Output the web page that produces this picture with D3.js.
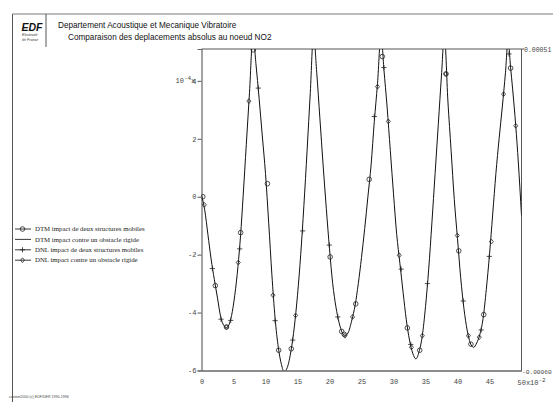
<!DOCTYPE html>
<html lang="fr">
<head>
<meta charset="UTF-8">
<script src="https://cdnjs.cloudflare.com/ajax/libs/d3/7.8.5/d3.min.js"></script>
<title>Comparaison des deplacements</title>
<style>
  body { margin: 0; background: #fff; }
  svg { display: block; }
  .tick text, .mono { font-family: 'Liberation Mono', 'DejaVu Sans Mono', monospace; font-size: 7px; fill: #444; }
  .legend-text { font-family: 'Liberation Serif', serif; font-size: 6.8px; fill: #222; }
  .title { font-family: 'Liberation Sans', Arial, sans-serif; font-size: 8.2px; fill: #111; }
</style>
</head>
<body>
<svg width="553" height="404"></svg>
<script>
// temps en 1e-2 s, deplacement en 1e-4
const curveX = [0, 0.5, 1, 1.5, 2, 2.5, 3, 3.5, 3.9, 4.3, 4.7, 5.2, 5.7, 6.1, 6.5, 7, 7.5, 8.05,
  8.5, 9, 9.5, 10, 10.5, 11, 11.5, 12, 12.5, 12.9, 13.4, 14, 14.5, 15, 15.5, 16, 16.5, 17, 17.5,
  18, 18.5, 19, 19.5, 20, 20.5, 21, 21.5, 22, 22.4, 22.9, 23.5, 24, 24.5, 25, 25.5, 26, 26.5, 27, 27.5, 28.05,
  28.5, 29, 29.5, 30, 30.5, 31, 31.5, 32, 32.5, 33, 33.5, 34, 34.5, 35, 35.5, 36, 36.5, 37, 37.5, 37.95,
  38.5, 39, 39.5, 40, 40.5, 41, 41.5, 42, 42.5, 43, 43.5, 44, 44.5, 45, 45.5, 46, 46.5, 47, 47.5, 47.9,
  48.3, 48.6, 49.1, 49.5, 50]
const curveY = [0.05, -0.45, -1.3, -2.15, -2.85, -3.5, -4.15, -4.45, -4.52, -4.42, -4.1, -3.4, -2.4, -1.35, 0.0, 1.8, 3.6, 5.6,
  4.6, 3.4, 2.1, 0.8, -0.9, -2.7, -4.2, -5.2, -5.8, -6.05, -5.9, -5.3, -4.5, -3.4, -2.0, -0.3, 1.6, 3.6, 5.6,
  4.3, 2.7, 1.1, -0.4, -1.8, -3.0, -3.8, -4.35, -4.7, -4.8, -4.7, -4.25, -3.75, -3.0, -2.1, -1.1, 0.0, 1.1, 2.6, 3.9, 5.6,
  4.4, 3.1, 1.6, 0.1, -1.3, -2.3, -3.3, -4.25, -4.95, -5.4, -5.6, -5.35, -4.8, -3.8, -2.5, -0.9, 0.8, 2.5, 4.2, 5.6,
  3.3, 1.6, -0.1, -1.45, -2.8, -3.85, -4.6, -5.05, -5.2, -5.05, -4.75, -4.2, -3.2, -2.0, -0.6, 0.8, 2.0, 3.1, 4.3, 5.4,
  4.45, 3.75, 2.45, 1.2, -0.65]

const circleX = [0.2, 2.16, 3.9, 6.12, 8.1, 10.3, 12.06, 14.03, 20.1, 21.9, 22.3, 24.1, 26.2, 28.25, 32.16, 34.1, 38.2, 40.2, 42.1, 44.1, 48.3]
const circleY = [0.0, -3.07, -4.5, -1.24, 5.07, 0.45, -5.3, -5.25, -2.08, -4.65, -4.75, -3.7, 0.6, 4.84, -4.53, -5.3, 4.24, -1.87, -5.09, -4.07, 4.44]
const plusX = [1.7, 3.05, 4.56, 5.97, 8.88, 11.5, 14.25, 15.8, 19.97, 21.3, 27.0, 28.5, 31.2, 32.7, 35.3, 40.9, 43.7, 44.97, 48.05]
const plusY = [-2.48, -4.23, -4.27, -1.8, 3.75, -4.28, -4.95, -1.18, -1.67, -4.15, 2.77, 4.46, -2.5, -5.1, -3.0, -3.6, -4.6, -2.06, 4.93]
const diamondX = [0.44, 3.9, 5.75, 7.4, 11.17, 14.7, 22.4, 23.6, 27.5, 29.2, 30.9, 32.8, 34.5, 38.2, 39.97, 41.7, 43.4, 45.3, 47.2, 49.1]
const diamondY = [-0.28, -4.5, -2.27, 3.3, -3.4, -4.1, -4.8, -4.15, 3.8, 2.6, -2.02, -5.2, -4.8, 4.24, -1.34, -4.8, -4.85, -1.55, 3.54, 2.45]

const xTicks = [0, 5, 10, 15, 20, 25, 30, 35, 40, 45, 50]
const yTicks = [-6, -4, -2, 0, 2, 4]
const legendLabels = ['DTM impact de deux structures mobiles', 'DTM impact contre un obstacle rigide',
  'DNL impact de deux structures mobiles', 'DNL impact contre un obstacle rigide']
const legendSymbols = ['circle', 'none', 'plus', 'diamond']
const titleLines = ['Departement Acoustique et Mecanique Vibratoire', 'Comparaison des deplacements absolus au noeud NO2']

const svg = d3.select('svg')
const x = d3.scaleLinear().domain([0, 50]).range([201.5, 521.5])
const y = d3.scaleLinear().domain([-6, 5.1]).range([370.5, 49])

// cadre de l'en-tete
svg.append('line').attr('x1', 12.5).attr('x2', 553).attr('y1', 14).attr('y2', 14).attr('stroke', '#777').attr('stroke-width', 1)
svg.append('line').attr('x1', 12.5).attr('x2', 12.5).attr('y1', 14).attr('y2', 402).attr('stroke', '#555').attr('stroke-width', 1)
svg.append('line').attr('x1', 46).attr('x2', 46).attr('y1', 14).attr('y2', 47).attr('stroke', '#555').attr('stroke-width', 1)
svg.append('text').attr('x', 21.5).attr('y', 30.5)
  .style('font', 'italic bold 10.5px "Liberation Sans", Arial, sans-serif').attr('fill', '#111').text('EDF')
svg.append('text').attr('x', 22).attr('y', 36).style('font', 'italic 3.6px "Liberation Sans", sans-serif').attr('fill', '#333').text('Electricité')
svg.append('text').attr('x', 22).attr('y', 40.5).style('font', 'italic 3.6px "Liberation Sans", sans-serif').attr('fill', '#333').text('de France')

svg.append('text').attr('class', 'title').attr('x', 58).attr('y', 28).text(titleLines[0])
svg.append('text').attr('class', 'title').attr('x', 68).attr('y', 39.5).text(titleLines[1])

svg.append('text').attr('x', 9).attr('y', 398).style('font', '3.6px "Liberation Sans", sans-serif').attr('fill', '#444')
  .text('castem2000 (c) EDF/DER 1990-1996')

// axes
const xAxis = svg.append('g').attr('transform', 'translate(0,370.5)')
  .call(d3.axisBottom(x).tickValues(xTicks).tickSize(0).tickPadding(9).tickFormat(d => d === 50 ? '' : String(d)))
xAxis.attr('font-family', null).attr('font-size', null)
xAxis.select('.domain').attr('stroke', '#666').attr('stroke-width', 1.6)

svg.append('text').attr('class', 'mono').attr('x', x(50) - 4).attr('y', 385)
  .text('50x10').append('tspan').attr('dy', -3).style('font-size', '6px').text('-2')

const yAxis = svg.append('g').attr('transform', 'translate(201.5,0)')
  .call(d3.axisLeft(y).tickValues(yTicks).tickSize(4).tickPadding(1).tickFormat(d => String(d)))
yAxis.attr('font-family', null).attr('font-size', null)
yAxis.select('.domain').attr('stroke', '#666').attr('stroke-width', 1.2)
yAxis.selectAll('.tick line').attr('stroke', '#555')

const expo = svg.append('text').attr('class', 'mono').attr('x', 175.5).attr('y', 83)
expo.append('tspan').text('10')
expo.append('tspan').attr('dy', -3).style('font-size', '6px').text('-4')
expo.append('tspan').attr('dy', 3).text('x')

// cadre haut et droit
svg.append('line').attr('x1', x(0)).attr('x2', x(50)).attr('y1', y(5.1)).attr('y2', y(5.1)).attr('stroke', '#555')
svg.append('line').attr('x1', x(50)).attr('x2', x(50)).attr('y1', y(5.1)).attr('y2', y(-6)).attr('stroke', '#555')
svg.append('line').attr('x1', x(50)).attr('x2', x(50) + 2.5).attr('y1', y(5.1)).attr('y2', y(5.1)).attr('stroke', '#555')
svg.append('text').attr('class', 'mono').style('font-size', '6.5px').attr('x', x(50) + 2.5).attr('y', y(5.1) + 3).text('0.00051')
svg.append('text').attr('class', 'mono').style('font-size', '6.2px').attr('x', x(50) + 0.5).attr('y', y(-6) + 3).text('-0.00060')

// courbes
svg.append('clipPath').attr('id', 'plot').append('rect')
  .attr('x', x(0)).attr('y', y(5.1)).attr('width', x(50) - x(0)).attr('height', y(-6) - y(5.1))
const plot = svg.append('g').attr('clip-path', 'url(#plot)')

const line = d3.line().x(d => x(d[0])).y(d => y(d[1])).curve(d3.curveMonotoneX)
plot.append('path').datum(d3.zip(curveX, curveY)).attr('d', line)
  .attr('fill', 'none').attr('stroke', '#111').attr('stroke-width', 1)

function drawSymbol(g, kind, cx, cy) {
  if (kind === 'circle') {
    g.append('circle').attr('cx', cx).attr('cy', cy).attr('r', 2.3)
      .attr('fill', 'none').attr('stroke', '#222').attr('stroke-width', 0.8)
  } else if (kind === 'plus') {
    g.append('path').attr('d', `M${cx - 2.6},${cy}H${cx + 2.6}M${cx},${cy - 2.6}V${cy + 2.6}`)
      .attr('stroke', '#222').attr('stroke-width', 0.8)
  } else if (kind === 'diamond') {
    g.append('path').attr('d', `M${cx},${cy - 2.4}L${cx + 2},${cy}L${cx},${cy + 2.4}L${cx - 2},${cy}Z`)
      .attr('fill', 'none').attr('stroke', '#222').attr('stroke-width', 0.8)
  }
}
circleX.forEach((v, i) => drawSymbol(plot, 'circle', x(v), y(circleY[i])))
plusX.forEach((v, i) => drawSymbol(plot, 'plus', x(v), y(plusY[i])))
diamondX.forEach((v, i) => drawSymbol(plot, 'diamond', x(v), y(diamondY[i])))

// legende
const legend = svg.append('g')
legendLabels.forEach((lab, i) => {
  const ly = 229 + i * 10.4
  legend.append('line').attr('x1', 15).attr('x2', 31).attr('y1', ly).attr('y2', ly).attr('stroke', '#222').attr('stroke-width', 0.9)
  drawSymbol(legend, legendSymbols[i], 22.5, ly)
  legend.append('text').attr('class', 'legend-text').attr('x', 35).attr('y', ly + 2.2).text(lab)
})
</script>
</body>
</html>
